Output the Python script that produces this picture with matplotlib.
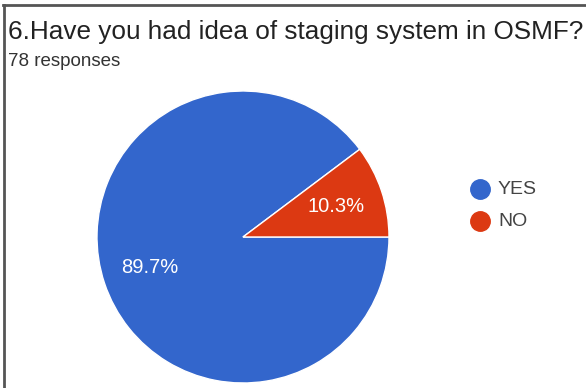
import matplotlib
matplotlib.use("Agg")
import matplotlib.pyplot as plt
from matplotlib.lines import Line2D

# ── data ──────────────────────────────────────────────────────────────────────
labels = ["YES", "NO"]
counts = [70, 8]            # 78 responses -> 89.7% / 10.3%
colors = ["#3366cc", "#dc3912"]
title = "6.Have you had idea of staging system in OSMF?"
subtitle = "78 responses"

W, H = 586, 388
plt.rcParams["font.family"] = ["Liberation Sans", "DejaVu Sans"]
fig = plt.figure(figsize=(W / 100, H / 100), dpi=100)
fig.patch.set_facecolor("white")

# ── frame lines (top + left) ─────────────────────────────────────────────────
fig.add_artist(Line2D([3 / W, 1], [1 - 5 / H, 1 - 5 / H], color="#555555", lw=2))
fig.add_artist(Line2D([4 / W, 4 / W], [0, 1 - 5 / H], color="#555555", lw=2))

fig.text(8 / W, 1 - 32 / H, title, fontsize=18.8, color="#222222", va="center", ha="left")
fig.text(8 / W, 1 - 62 / H, subtitle, fontsize=13.5, color="#333333", va="center", ha="left")

# ── pie ──────────────────────────────────────────────────────────────────────
cx, cy, r = 243, 237, 146
ax = fig.add_axes([(cx - r) / W, 1 - (cy + r) / H, 2 * r / W, 2 * r / H])
wedges, _, autotexts = ax.pie(
    counts, colors=colors, startangle=0, counterclock=False,
    autopct="%1.1f%%", pctdistance=0.67, radius=1,
    wedgeprops=dict(edgecolor="white", linewidth=1),
    textprops=dict(color="white", fontsize=14.5),
)
ax.set_xlim(-1, 1)
ax.set_ylim(-1, 1)
ax.set_aspect("equal")
ax.axis("off")

# ── legend ───────────────────────────────────────────────────────────────────
for i, (lab, col) in enumerate(zip(labels, colors)):
    y = 1 - (189 + 32 * i) / H
    fig.add_artist(Line2D([480 / W], [y], marker="o", markersize=14,
                          color=col, linestyle="none"))
    fig.text(498 / W, y, lab, fontsize=14, color="#444444", va="center", ha="left")

fig.savefig("out.png", dpi=100)
